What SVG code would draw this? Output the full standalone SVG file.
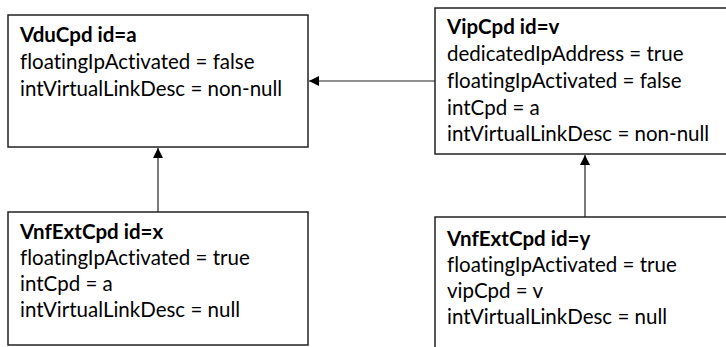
<svg xmlns="http://www.w3.org/2000/svg" width="726" height="347" viewBox="0 0 726 347">
<style>
.box{fill:#fff;stroke:#222;stroke-width:1.5}
.t{font-family:Lato,"Liberation Sans",sans-serif;font-size:20.5px;fill:#000;font-variant-ligatures:none}
.b{font-weight:bold}
.c{stroke:#222;stroke-width:1.2;fill:none}
</style>
<defs>
<marker id="ah" viewBox="0 0 10 10" refX="10" refY="5" markerWidth="10" markerHeight="10" markerUnits="userSpaceOnUse" orient="auto">
<path d="M0,0 L10,5 L0,10 z" fill="#000"/>
</marker>
</defs>
<rect width="726" height="347" fill="#fff"/>
<g id="connectors">
<line class="c" x1="435" y1="81" x2="309" y2="81" marker-end="url(#ah)"/>
<line class="c" x1="158" y1="212" x2="158" y2="148" marker-end="url(#ah)"/>
<line class="c" x1="585" y1="217" x2="585" y2="155" marker-end="url(#ah)"/>
</g>
<g id="node-a">
<rect class="box" x="8" y="15" width="300" height="132"/>
<text class="t b" x="20" y="42">VduCpd id=a</text>
<text class="t" x="20" y="69">floatingIpActivated = false</text>
<text class="t" x="20" y="96">intVirtualLinkDesc = non-null</text>
</g>
<g id="node-v">
<rect class="box" x="435" y="8" width="300" height="146"/>
<text class="t b" x="447" y="34">VipCpd id=v</text>
<text class="t" x="447" y="61">dedicatedIpAddress = true</text>
<text class="t" x="447" y="88">floatingIpActivated = false</text>
<text class="t" x="447" y="115">intCpd = a</text>
<text class="t" x="447" y="141">intVirtualLinkDesc = non-null</text>
</g>
<g id="node-x">
<rect class="box" x="8" y="212" width="300" height="133"/>
<text class="t b" x="20" y="239">VnfExtCpd id=x</text>
<text class="t" x="20" y="265">floatingIpActivated = true</text>
<text class="t" x="20" y="291">intCpd = a</text>
<text class="t" x="20" y="317">intVirtualLinkDesc = null</text>
</g>
<g id="node-y">
<rect class="box" x="435" y="217" width="300" height="140"/>
<text class="t b" x="447" y="246">VnfExtCpd id=y</text>
<text class="t" x="447" y="272">floatingIpActivated = true</text>
<text class="t" x="447" y="298">vipCpd = v</text>
<text class="t" x="447" y="324">intVirtualLinkDesc = null</text>
</g>
</svg>
